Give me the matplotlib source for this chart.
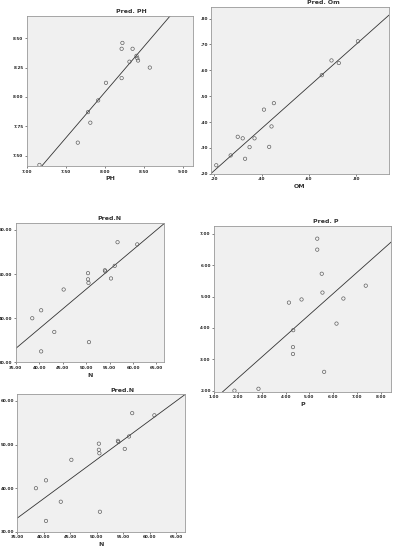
import numpy as np
import matplotlib
matplotlib.use("Agg")
import matplotlib.pyplot as plt
from matplotlib.ticker import FuncFormatter

# PH
ph_obs = [7.16, 7.65, 7.78, 7.81, 7.91, 8.01, 8.21, 8.21, 8.22, 8.31, 8.35, 8.40, 8.41, 8.42, 8.57]
ph_pred = [7.42, 7.61, 7.87, 7.78, 7.97, 8.12, 8.16, 8.41, 8.46, 8.30, 8.41, 8.35, 8.33, 8.31, 8.25]

# OM
om_obs = [0.208, 0.269, 0.299, 0.320, 0.330, 0.349, 0.370, 0.410, 0.432, 0.442, 0.452, 0.655, 0.696, 0.727, 0.808]
om_pred = [0.233, 0.271, 0.343, 0.337, 0.258, 0.303, 0.337, 0.448, 0.304, 0.383, 0.473, 0.581, 0.638, 0.628, 0.712]

# N
n_obs = [38.5, 40.4, 40.4, 43.2, 45.2, 50.4, 50.4, 50.5, 50.6, 54.0, 54.1, 55.3, 56.1, 56.7, 60.9]
n_pred = [40.0, 41.8, 32.5, 36.9, 46.5, 50.2, 48.8, 48.0, 34.6, 50.85, 50.6, 49.0, 51.85, 57.2, 56.7]

# P
p_obs = [1.85, 2.86, 4.14, 4.32, 4.31, 4.31, 4.67, 5.33, 5.33, 5.52, 5.55, 5.62, 6.14, 6.43, 7.37]
p_pred = [2.00, 2.06, 4.81, 3.93, 3.39, 3.17, 4.91, 6.85, 6.50, 5.73, 5.13, 2.60, 4.14, 4.94, 5.35]

fig = plt.figure(figsize=(3.96, 5.5), dpi=100)


def fmt_2f(v, pos):
    return "%.2f" % v


def fmt_om(v, pos):
    return ("%.2f" % v).lstrip("0")


def panel(rect, x, y, title, xlabel, xlim, ylim, xticks, yticks, fmt):
    ax = fig.add_axes(rect)
    ax.set_facecolor("#f0f0f0")
    ax.scatter(x, y, s=6, facecolors="none", edgecolors="#555555", linewidths=0.45, zorder=3)
    k, b = np.polyfit(x, y, 1)
    xs = np.array(xlim)
    ax.plot(xs, k * xs + b, color="#333333", lw=0.6, zorder=2)
    ax.set_xlim(xlim)
    ax.set_ylim(ylim)
    ax.set_xticks(xticks)
    ax.set_yticks(yticks)
    ax.xaxis.set_major_formatter(FuncFormatter(fmt))
    ax.yaxis.set_major_formatter(FuncFormatter(fmt))
    ax.tick_params(labelsize=3, length=1.5, width=0.4, pad=1, colors="#222222")
    for lbl in ax.get_xticklabels() + ax.get_yticklabels():
        lbl.set_fontweight("bold")
    for s in ax.spines.values():
        s.set_color("#999999")
        s.set_linewidth(0.6)
    ax.text(0.63, 1.01, title, transform=ax.transAxes, ha="center", va="bottom",
            fontsize=4.5, fontweight="bold", color="#333333")
    ax.set_xlabel(xlabel, fontsize=4.5, fontweight="bold", color="#333333", labelpad=2)
    return ax


panel([0.068, 0.698, 0.419, 0.273], ph_obs, ph_pred, "Pred. PH", "PH",
      (7.0, 9.12), (7.41, 8.69), [7.0, 7.5, 8.0, 8.5, 9.0], [7.50, 7.75, 8.00, 8.25, 8.50], fmt_2f)

panel([0.533, 0.684, 0.449, 0.304], om_obs, om_pred, "Pred. Om", "OM",
      (0.186, 0.939), (0.20, 0.846), [0.2, 0.4, 0.6, 0.8], [0.2, 0.3, 0.4, 0.5, 0.6, 0.7, 0.8], fmt_om)

panel([0.040, 0.341, 0.374, 0.254], n_obs, n_pred, "Pred.N", "N",
      (35, 66.6), (30, 61.6), [35, 40, 45, 50, 55, 60, 65], [30, 40, 50, 60], fmt_2f)

panel([0.541, 0.288, 0.4475, 0.302], p_obs, p_pred, "Pred. P", "P",
      (1.0, 8.45), (1.97, 7.27), [1, 2, 3, 4, 5, 6, 7, 8], [2, 3, 4, 5, 6, 7], fmt_2f)

panel([0.044, 0.033, 0.422, 0.250], n_obs, n_pred, "Pred.N", "N",
      (35, 66.6), (30, 61.5), [35, 40, 45, 50, 55, 60, 65], [30, 40, 50, 60], fmt_2f)

fig.savefig("out.png", dpi=100)
